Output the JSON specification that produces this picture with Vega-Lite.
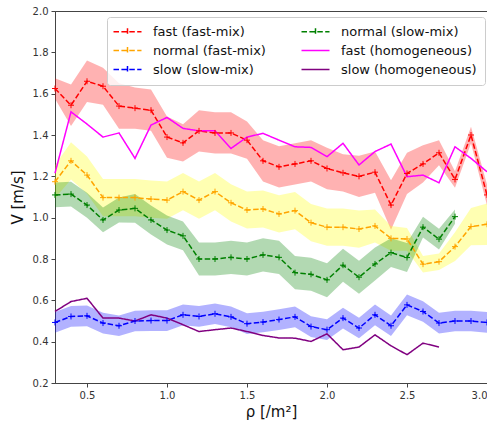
{
  "$schema": "https://vega.github.io/schema/vega-lite/v6.json",
  "width": 432,
  "height": 372,
  "autosize": {"type": "none"},
  "padding": {"left": 55, "top": 11, "right": 0, "bottom": 43},
  "config": {
    "view": {"stroke": "#444", "strokeWidth": 1},
    "axis": {"labelFont": "DejaVu Sans", "labelFontSize": 10, "labelColor": "#333", "titleFont": "DejaVu Sans", "titleFontSize": 15, "titleFontWeight": "normal", "titleColor": "#111", "domainColor": "#444", "tickColor": "#444", "tickSize": 4, "grid": false, "labelPadding": 3}
  },
  "data": {"values": [
    {"s": "fast (fast-mix)", "x": 0.3, "v": 1.625, "lo": 1.575, "hi": 1.675},
    {"s": "fast (fast-mix)", "x": 0.4, "v": 1.544, "lo": 1.444, "hi": 1.644},
    {"s": "fast (fast-mix)", "x": 0.5, "v": 1.66, "lo": 1.56, "hi": 1.76},
    {"s": "fast (fast-mix)", "x": 0.6, "v": 1.636, "lo": 1.546, "hi": 1.726},
    {"s": "fast (fast-mix)", "x": 0.7, "v": 1.54, "lo": 1.43, "hi": 1.65},
    {"s": "fast (fast-mix)", "x": 0.8, "v": 1.53, "lo": 1.43, "hi": 1.63},
    {"s": "fast (fast-mix)", "x": 0.9, "v": 1.52, "lo": 1.42, "hi": 1.62},
    {"s": "fast (fast-mix)", "x": 1.0, "v": 1.39, "lo": 1.29, "hi": 1.49},
    {"s": "fast (fast-mix)", "x": 1.1, "v": 1.362, "lo": 1.272, "hi": 1.452},
    {"s": "fast (fast-mix)", "x": 1.2, "v": 1.42, "lo": 1.32, "hi": 1.52},
    {"s": "fast (fast-mix)", "x": 1.3, "v": 1.41, "lo": 1.31, "hi": 1.51},
    {"s": "fast (fast-mix)", "x": 1.4, "v": 1.41, "lo": 1.31, "hi": 1.51},
    {"s": "fast (fast-mix)", "x": 1.5, "v": 1.375, "lo": 1.285, "hi": 1.465},
    {"s": "fast (fast-mix)", "x": 1.6, "v": 1.275, "lo": 1.175, "hi": 1.375},
    {"s": "fast (fast-mix)", "x": 1.7, "v": 1.246, "lo": 1.146, "hi": 1.346},
    {"s": "fast (fast-mix)", "x": 1.8, "v": 1.26, "lo": 1.16, "hi": 1.36},
    {"s": "fast (fast-mix)", "x": 1.9, "v": 1.275, "lo": 1.175, "hi": 1.375},
    {"s": "fast (fast-mix)", "x": 2.0, "v": 1.238, "lo": 1.138, "hi": 1.338},
    {"s": "fast (fast-mix)", "x": 2.1, "v": 1.217, "lo": 1.127, "hi": 1.307},
    {"s": "fast (fast-mix)", "x": 2.2, "v": 1.2, "lo": 1.1, "hi": 1.3},
    {"s": "fast (fast-mix)", "x": 2.3, "v": 1.22, "lo": 1.12, "hi": 1.32},
    {"s": "fast (fast-mix)", "x": 2.4, "v": 1.061, "lo": 0.941, "hi": 1.181},
    {"s": "fast (fast-mix)", "x": 2.5, "v": 1.214, "lo": 1.114, "hi": 1.314},
    {"s": "fast (fast-mix)", "x": 2.6, "v": 1.26, "lo": 1.17, "hi": 1.35},
    {"s": "fast (fast-mix)", "x": 2.7, "v": 1.314, "lo": 1.254, "hi": 1.374},
    {"s": "fast (fast-mix)", "x": 2.8, "v": 1.185, "lo": 1.145, "hi": 1.225},
    {"s": "fast (fast-mix)", "x": 2.9, "v": 1.4, "lo": 1.36, "hi": 1.44},
    {"s": "fast (fast-mix)", "x": 3.0, "v": 1.11, "lo": 1.06, "hi": 1.16},

    {"s": "normal (fast-mix)", "x": 0.3, "v": 1.174, "lo": 1.094, "hi": 1.254},
    {"s": "normal (fast-mix)", "x": 0.4, "v": 1.275, "lo": 1.185, "hi": 1.365},
    {"s": "normal (fast-mix)", "x": 0.5, "v": 1.206, "lo": 1.116, "hi": 1.296},
    {"s": "normal (fast-mix)", "x": 0.6, "v": 1.097, "lo": 1.007, "hi": 1.187},
    {"s": "normal (fast-mix)", "x": 0.7, "v": 1.097, "lo": 1.007, "hi": 1.187},
    {"s": "normal (fast-mix)", "x": 0.8, "v": 1.097, "lo": 1.007, "hi": 1.187},
    {"s": "normal (fast-mix)", "x": 0.9, "v": 1.09, "lo": 1.0, "hi": 1.18},
    {"s": "normal (fast-mix)", "x": 1.0, "v": 1.085, "lo": 0.995, "hi": 1.175},
    {"s": "normal (fast-mix)", "x": 1.1, "v": 1.126, "lo": 1.036, "hi": 1.216},
    {"s": "normal (fast-mix)", "x": 1.2, "v": 1.085, "lo": 0.995, "hi": 1.175},
    {"s": "normal (fast-mix)", "x": 1.3, "v": 1.126, "lo": 1.036, "hi": 1.216},
    {"s": "normal (fast-mix)", "x": 1.4, "v": 1.072, "lo": 0.982, "hi": 1.162},
    {"s": "normal (fast-mix)", "x": 1.5, "v": 1.037, "lo": 0.947, "hi": 1.127},
    {"s": "normal (fast-mix)", "x": 1.6, "v": 1.042, "lo": 0.952, "hi": 1.132},
    {"s": "normal (fast-mix)", "x": 1.7, "v": 1.018, "lo": 0.928, "hi": 1.108},
    {"s": "normal (fast-mix)", "x": 1.8, "v": 1.034, "lo": 0.944, "hi": 1.124},
    {"s": "normal (fast-mix)", "x": 1.9, "v": 0.976, "lo": 0.886, "hi": 1.066},
    {"s": "normal (fast-mix)", "x": 2.0, "v": 0.954, "lo": 0.864, "hi": 1.044},
    {"s": "normal (fast-mix)", "x": 2.1, "v": 0.954, "lo": 0.864, "hi": 1.044},
    {"s": "normal (fast-mix)", "x": 2.2, "v": 0.945, "lo": 0.855, "hi": 1.035},
    {"s": "normal (fast-mix)", "x": 2.3, "v": 0.96, "lo": 0.88, "hi": 1.04},
    {"s": "normal (fast-mix)", "x": 2.4, "v": 0.9, "lo": 0.84, "hi": 0.96},
    {"s": "normal (fast-mix)", "x": 2.5, "v": 0.897, "lo": 0.84, "hi": 0.95},
    {"s": "normal (fast-mix)", "x": 2.6, "v": 0.775, "lo": 0.735, "hi": 0.815},
    {"s": "normal (fast-mix)", "x": 2.7, "v": 0.787, "lo": 0.747, "hi": 0.827},
    {"s": "normal (fast-mix)", "x": 2.8, "v": 0.86, "lo": 0.79, "hi": 0.93},
    {"s": "normal (fast-mix)", "x": 2.9, "v": 0.957, "lo": 0.867, "hi": 1.047},
    {"s": "normal (fast-mix)", "x": 3.0, "v": 0.968, "lo": 0.868, "hi": 1.068},

    {"s": "slow (slow-mix)", "x": 0.3, "v": 0.493, "lo": 0.443, "hi": 0.543},
    {"s": "slow (slow-mix)", "x": 0.4, "v": 0.522, "lo": 0.472, "hi": 0.572},
    {"s": "slow (slow-mix)", "x": 0.5, "v": 0.525, "lo": 0.475, "hi": 0.575},
    {"s": "slow (slow-mix)", "x": 0.6, "v": 0.49, "lo": 0.44, "hi": 0.54},
    {"s": "slow (slow-mix)", "x": 0.7, "v": 0.477, "lo": 0.427, "hi": 0.527},
    {"s": "slow (slow-mix)", "x": 0.8, "v": 0.5, "lo": 0.45, "hi": 0.55},
    {"s": "slow (slow-mix)", "x": 0.9, "v": 0.502, "lo": 0.452, "hi": 0.552},
    {"s": "slow (slow-mix)", "x": 1.0, "v": 0.502, "lo": 0.452, "hi": 0.552},
    {"s": "slow (slow-mix)", "x": 1.1, "v": 0.53, "lo": 0.48, "hi": 0.58},
    {"s": "slow (slow-mix)", "x": 1.2, "v": 0.522, "lo": 0.472, "hi": 0.572},
    {"s": "slow (slow-mix)", "x": 1.3, "v": 0.535, "lo": 0.485, "hi": 0.585},
    {"s": "slow (slow-mix)", "x": 1.4, "v": 0.52, "lo": 0.47, "hi": 0.57},
    {"s": "slow (slow-mix)", "x": 1.5, "v": 0.487, "lo": 0.437, "hi": 0.537},
    {"s": "slow (slow-mix)", "x": 1.6, "v": 0.495, "lo": 0.445, "hi": 0.545},
    {"s": "slow (slow-mix)", "x": 1.7, "v": 0.507, "lo": 0.457, "hi": 0.557},
    {"s": "slow (slow-mix)", "x": 1.8, "v": 0.52, "lo": 0.47, "hi": 0.57},
    {"s": "slow (slow-mix)", "x": 1.9, "v": 0.473, "lo": 0.423, "hi": 0.523},
    {"s": "slow (slow-mix)", "x": 2.0, "v": 0.458, "lo": 0.408, "hi": 0.508},
    {"s": "slow (slow-mix)", "x": 2.1, "v": 0.514, "lo": 0.464, "hi": 0.564},
    {"s": "slow (slow-mix)", "x": 2.2, "v": 0.466, "lo": 0.416, "hi": 0.516},
    {"s": "slow (slow-mix)", "x": 2.3, "v": 0.53, "lo": 0.48, "hi": 0.58},
    {"s": "slow (slow-mix)", "x": 2.4, "v": 0.477, "lo": 0.427, "hi": 0.527},
    {"s": "slow (slow-mix)", "x": 2.5, "v": 0.578, "lo": 0.528, "hi": 0.628},
    {"s": "slow (slow-mix)", "x": 2.6, "v": 0.546, "lo": 0.496, "hi": 0.596},
    {"s": "slow (slow-mix)", "x": 2.7, "v": 0.49, "lo": 0.44, "hi": 0.54},
    {"s": "slow (slow-mix)", "x": 2.8, "v": 0.5, "lo": 0.45, "hi": 0.55},
    {"s": "slow (slow-mix)", "x": 2.9, "v": 0.5, "lo": 0.45, "hi": 0.55},
    {"s": "slow (slow-mix)", "x": 3.0, "v": 0.493, "lo": 0.443, "hi": 0.543},

    {"s": "normal (slow-mix)", "x": 0.3, "v": 1.11, "lo": 1.05, "hi": 1.17},
    {"s": "normal (slow-mix)", "x": 0.4, "v": 1.114, "lo": 1.054, "hi": 1.174},
    {"s": "normal (slow-mix)", "x": 0.5, "v": 1.061, "lo": 1.0, "hi": 1.12},
    {"s": "normal (slow-mix)", "x": 0.6, "v": 0.989, "lo": 0.929, "hi": 1.049},
    {"s": "normal (slow-mix)", "x": 0.7, "v": 1.037, "lo": 0.977, "hi": 1.097},
    {"s": "normal (slow-mix)", "x": 0.8, "v": 1.045, "lo": 0.975, "hi": 1.115},
    {"s": "normal (slow-mix)", "x": 0.9, "v": 0.989, "lo": 0.919, "hi": 1.059},
    {"s": "normal (slow-mix)", "x": 1.0, "v": 0.94, "lo": 0.87, "hi": 1.01},
    {"s": "normal (slow-mix)", "x": 1.1, "v": 0.912, "lo": 0.842, "hi": 0.982},
    {"s": "normal (slow-mix)", "x": 1.2, "v": 0.8, "lo": 0.72, "hi": 0.88},
    {"s": "normal (slow-mix)", "x": 1.3, "v": 0.8, "lo": 0.72, "hi": 0.88},
    {"s": "normal (slow-mix)", "x": 1.4, "v": 0.808, "lo": 0.728, "hi": 0.888},
    {"s": "normal (slow-mix)", "x": 1.5, "v": 0.8, "lo": 0.72, "hi": 0.88},
    {"s": "normal (slow-mix)", "x": 1.6, "v": 0.82, "lo": 0.74, "hi": 0.9},
    {"s": "normal (slow-mix)", "x": 1.7, "v": 0.808, "lo": 0.728, "hi": 0.888},
    {"s": "normal (slow-mix)", "x": 1.8, "v": 0.734, "lo": 0.654, "hi": 0.814},
    {"s": "normal (slow-mix)", "x": 1.9, "v": 0.726, "lo": 0.646, "hi": 0.806},
    {"s": "normal (slow-mix)", "x": 2.0, "v": 0.699, "lo": 0.615, "hi": 0.78},
    {"s": "normal (slow-mix)", "x": 2.1, "v": 0.77, "lo": 0.69, "hi": 0.85},
    {"s": "normal (slow-mix)", "x": 2.2, "v": 0.712, "lo": 0.632, "hi": 0.792},
    {"s": "normal (slow-mix)", "x": 2.3, "v": 0.776, "lo": 0.696, "hi": 0.856},
    {"s": "normal (slow-mix)", "x": 2.4, "v": 0.831, "lo": 0.761, "hi": 0.901},
    {"s": "normal (slow-mix)", "x": 2.5, "v": 0.807, "lo": 0.737, "hi": 0.877},
    {"s": "normal (slow-mix)", "x": 2.6, "v": 0.954, "lo": 0.904, "hi": 1.004},
    {"s": "normal (slow-mix)", "x": 2.7, "v": 0.896, "lo": 0.846, "hi": 0.946},
    {"s": "normal (slow-mix)", "x": 2.8, "v": 1.005, "lo": 0.97, "hi": 1.04},

    {"s": "fast (homogeneous)", "x": 0.3, "v": 1.215},
    {"s": "fast (homogeneous)", "x": 0.4, "v": 1.512},
    {"s": "fast (homogeneous)", "x": 0.5, "v": 1.453},
    {"s": "fast (homogeneous)", "x": 0.6, "v": 1.39},
    {"s": "fast (homogeneous)", "x": 0.7, "v": 1.41},
    {"s": "fast (homogeneous)", "x": 0.8, "v": 1.287},
    {"s": "fast (homogeneous)", "x": 0.9, "v": 1.448},
    {"s": "fast (homogeneous)", "x": 1.0, "v": 1.485},
    {"s": "fast (homogeneous)", "x": 1.1, "v": 1.432},
    {"s": "fast (homogeneous)", "x": 1.2, "v": 1.42},
    {"s": "fast (homogeneous)", "x": 1.3, "v": 1.42},
    {"s": "fast (homogeneous)", "x": 1.4, "v": 1.335},
    {"s": "fast (homogeneous)", "x": 1.5, "v": 1.39},
    {"s": "fast (homogeneous)", "x": 1.6, "v": 1.408},
    {"s": "fast (homogeneous)", "x": 1.7, "v": 1.375},
    {"s": "fast (homogeneous)", "x": 1.8, "v": 1.343},
    {"s": "fast (homogeneous)", "x": 1.9, "v": 1.34},
    {"s": "fast (homogeneous)", "x": 2.0, "v": 1.295},
    {"s": "fast (homogeneous)", "x": 2.1, "v": 1.36},
    {"s": "fast (homogeneous)", "x": 2.2, "v": 1.255},
    {"s": "fast (homogeneous)", "x": 2.3, "v": 1.32},
    {"s": "fast (homogeneous)", "x": 2.4, "v": 1.356},
    {"s": "fast (homogeneous)", "x": 2.5, "v": 1.198},
    {"s": "fast (homogeneous)", "x": 2.6, "v": 1.206},
    {"s": "fast (homogeneous)", "x": 2.7, "v": 1.169},
    {"s": "fast (homogeneous)", "x": 2.8, "v": 1.343},
    {"s": "fast (homogeneous)", "x": 2.9, "v": 1.287},
    {"s": "fast (homogeneous)", "x": 3.0, "v": 1.222},

    {"s": "slow (homogeneous)", "x": 0.3, "v": 0.546},
    {"s": "slow (homogeneous)", "x": 0.4, "v": 0.594},
    {"s": "slow (homogeneous)", "x": 0.5, "v": 0.61},
    {"s": "slow (homogeneous)", "x": 0.6, "v": 0.514},
    {"s": "slow (homogeneous)", "x": 0.7, "v": 0.514},
    {"s": "slow (homogeneous)", "x": 0.8, "v": 0.5},
    {"s": "slow (homogeneous)", "x": 0.9, "v": 0.53},
    {"s": "slow (homogeneous)", "x": 1.0, "v": 0.514},
    {"s": "slow (homogeneous)", "x": 1.1, "v": 0.482},
    {"s": "slow (homogeneous)", "x": 1.2, "v": 0.449},
    {"s": "slow (homogeneous)", "x": 1.3, "v": 0.458},
    {"s": "slow (homogeneous)", "x": 1.4, "v": 0.466},
    {"s": "slow (homogeneous)", "x": 1.5, "v": 0.449},
    {"s": "slow (homogeneous)", "x": 1.6, "v": 0.43},
    {"s": "slow (homogeneous)", "x": 1.7, "v": 0.418},
    {"s": "slow (homogeneous)", "x": 1.8, "v": 0.417},
    {"s": "slow (homogeneous)", "x": 1.9, "v": 0.401},
    {"s": "slow (homogeneous)", "x": 2.0, "v": 0.438},
    {"s": "slow (homogeneous)", "x": 2.1, "v": 0.361},
    {"s": "slow (homogeneous)", "x": 2.2, "v": 0.374},
    {"s": "slow (homogeneous)", "x": 2.3, "v": 0.433},
    {"s": "slow (homogeneous)", "x": 2.4, "v": 0.38},
    {"s": "slow (homogeneous)", "x": 2.5, "v": 0.337},
    {"s": "slow (homogeneous)", "x": 2.6, "v": 0.393},
    {"s": "slow (homogeneous)", "x": 2.7, "v": 0.374}
  ]},
  "encoding": {
    "x": {"field": "x", "type": "quantitative", "scale": {"domain": [0.3, 3.0], "nice": false, "zero": false}, "axis": {"values": [0.5, 1.0, 1.5, 2.0, 2.5, 3.0], "format": ".1f", "title": "ρ [/m²]", "titlePadding": 4}},
    "y": {"field": "v", "type": "quantitative", "scale": {"domain": [0.2, 2.0], "nice": false, "zero": false}, "axis": {"values": [0.2, 0.4, 0.6, 0.8, 1.0, 1.2, 1.4, 1.6, 1.8, 2.0], "format": ".1f", "title": "V [m/s]", "titlePadding": 7}}
  },
  "layer": [
    {
      "transform": [{"filter": "isValid(datum.lo)"}],
      "mark": {"type": "area", "fillOpacity": 0.3},
      "encoding": {
        "y": {"field": "lo", "type": "quantitative"},
        "y2": {"field": "hi"},
        "fill": {"field": "s", "type": "nominal", "scale": {"domain": ["fast (fast-mix)", "normal (fast-mix)", "slow (slow-mix)", "normal (slow-mix)"], "range": ["#ff0000", "#ffff00", "#0000ff", "#008000"]}, "legend": null}
      }
    },
    {
      "mark": {"type": "line", "strokeWidth": 1.5},
      "encoding": {
        "color": {"field": "s", "type": "nominal",
          "scale": {"domain": ["fast (fast-mix)", "normal (fast-mix)", "slow (slow-mix)", "normal (slow-mix)", "fast (homogeneous)", "slow (homogeneous)"],
                    "range": ["#ff0000", "#ffa500", "#0000ff", "#008000", "#ff00ff", "#800080"]},
          "legend": {"title": null, "orient": "none", "legendX": 52, "legendY": 6, "columns": 2,
            "symbolType": "M-1.6,0L4,0M1.2,-0.7L1.2,0.7", "symbolSize": 100, "symbolStrokeWidth": 1.5,
            "labelFont": "DejaVu Sans", "labelFontSize": 13, "labelColor": "#111", "labelLimit": 300, "labelOffset": 25,
            "columnPadding": 32, "rowPadding": 5, "padding": 8,
            "strokeColor": "#cccccc", "fillColor": "rgba(255,255,255,0.8)", "cornerRadius": 3,
            "encode": {"symbols": {"update": {"shape": [{"test": "indexof(datum.value, 'homogeneous') >= 0", "value": "M-1.6,0L4,0"}, {"value": "M-1.6,0L4,0M1.2,-0.7L1.2,0.7"}]}}}}},
        "strokeDash": {"field": "s", "type": "nominal",
          "scale": {"domain": ["fast (fast-mix)", "normal (fast-mix)", "slow (slow-mix)", "normal (slow-mix)", "fast (homogeneous)", "slow (homogeneous)"],
                    "range": [[5.5, 2.4], [5.5, 2.4], [5.5, 2.4], [5.5, 2.4], [1, 0], [1, 0]]},
          "legend": {"title": null}}
      }
    },
    {
      "transform": [{"filter": "isValid(datum.lo)"}],
      "mark": {"type": "point", "shape": "M-1,0L1,0M0,-1L0,1", "size": 36, "filled": false, "strokeWidth": 1, "opacity": 1},
      "encoding": {
        "stroke": {"field": "s", "type": "nominal", "scale": {"domain": ["fast (fast-mix)", "normal (fast-mix)", "slow (slow-mix)", "normal (slow-mix)"], "range": ["#ff0000", "#ffa500", "#0000ff", "#008000"]}, "legend": null}
      }
    }
  ]
}
